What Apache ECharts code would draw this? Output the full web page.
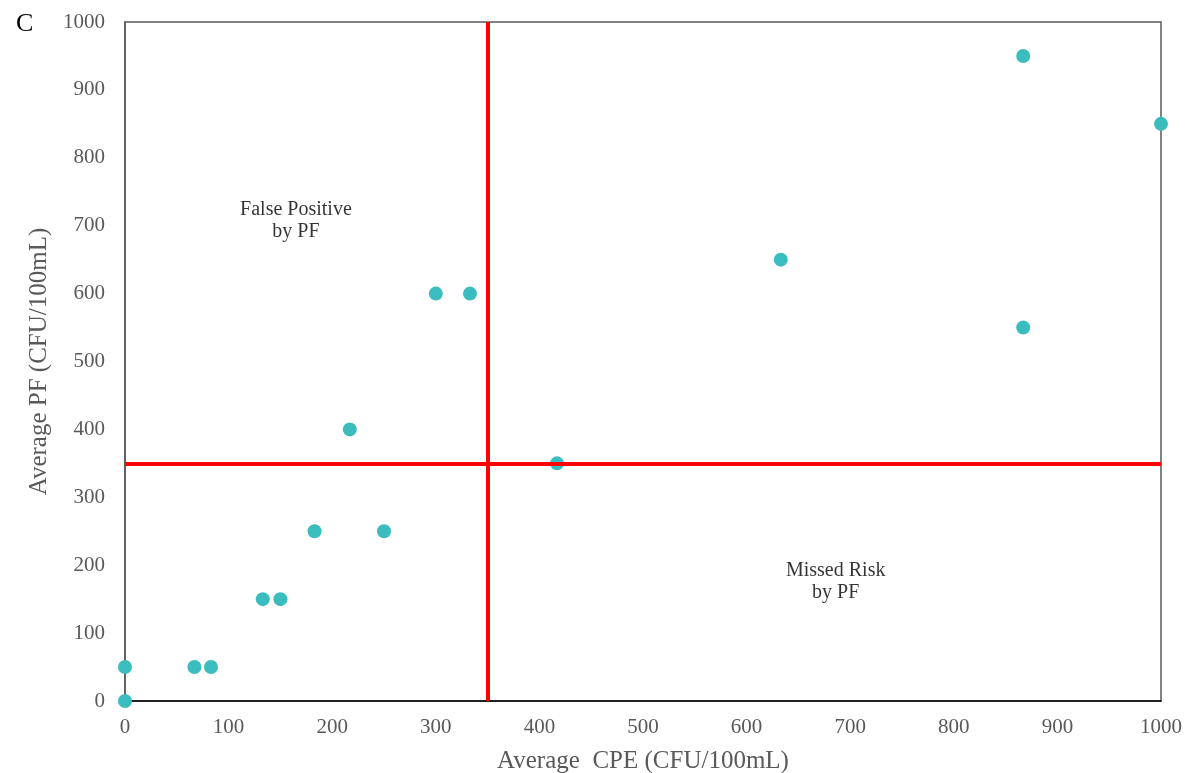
<!DOCTYPE html>
<html>
<head>
<meta charset="utf-8">
<script src="https://cdn.jsdelivr.net/npm/echarts@6/dist/echarts.min.js"></script>
<style>
html,body{margin:0;padding:0;background:#fff;}
#chart{width:1186px;height:773px;}
</style>
</head>
<body>
<div id="chart"></div>
<script>
// Data
var cpeValues = [0, 0, 67, 83, 133, 150, 183, 250, 217, 300, 333, 417, 633, 867, 867, 1000];
var pfValues  = [0, 50, 50, 50, 150, 150, 250, 250, 400, 600, 600, 350, 650, 550, 950, 850];
var thresholdCPE = 350;
var thresholdPF = 350;
var xTicks = [0, 100, 200, 300, 400, 500, 600, 700, 800, 900, 1000];
var yTicks = [0, 100, 200, 300, 400, 500, 600, 700, 800, 900, 1000];
var annotationTexts = ['False Positive\nby PF', 'Missed Risk\nby PF'];
var annotationX = [165, 686];
var annotationY = [707, 175];

var points = cpeValues.map(function (v, i) { return [v, pfValues[i]]; });
var annotations = annotationTexts.map(function (t, i) { return { value: [annotationX[i], annotationY[i]], name: t }; });

var serif = "'Liberation Serif', 'Times New Roman', serif";
var chart = echarts.init(document.getElementById('chart'), null, { renderer: 'canvas' });
chart.setOption({
  backgroundColor: '#fff',
  animation: false,
  title: {
    text: 'C', left: 11, top: 6,
    textStyle: { fontFamily: serif, fontSize: 26, fontWeight: 'normal', color: '#000' }
  },
  grid: {
    left: 125, top: 22, right: 25, bottom: 72,
    containLabel: false, outerBoundsMode: 'none',
    show: true, borderColor: '#595959', borderWidth: 1.5, backgroundColor: 'transparent'
  },
  xAxis: {
    type: 'value', min: xTicks[0], max: xTicks[xTicks.length - 1], interval: 100,
    name: 'Average  CPE (CFU/100mL)', nameLocation: 'middle', nameGap: 48,
    nameTextStyle: { fontFamily: serif, fontSize: 25, color: '#595959' },
    axisLine: { show: true, lineStyle: { color: '#000', width: 1.5 } },
    axisTick: { show: false },
    splitLine: { show: false },
    axisLabel: { fontFamily: serif, fontSize: 21, color: '#595959', margin: 16,
      formatter: function (v) { return String(v); } }
  },
  yAxis: {
    type: 'value', min: yTicks[0], max: yTicks[yTicks.length - 1], interval: 100,
    name: 'Average PF (CFU/100mL)', nameLocation: 'middle', nameGap: 72,
    nameTextStyle: { fontFamily: serif, fontSize: 25, color: '#595959' },
    axisLine: { show: true, lineStyle: { color: '#595959', width: 1.5 } },
    axisTick: { show: false },
    splitLine: { show: false },
    axisLabel: { fontFamily: serif, fontSize: 21, color: '#595959', margin: 20,
      formatter: function (v) { return String(v); } }
  },
  series: [
    {
      type: 'scatter', data: [], z: 1, silent: true,
      markLine: {
        silent: true, symbol: 'none', animation: false,
        label: { show: false },
        lineStyle: { color: '#ff0000', width: 4, type: 'solid' },
        emphasis: { disabled: true },
        data: [{ xAxis: thresholdCPE }, { yAxis: thresholdPF }]
      }
    },
    {
      type: 'scatter', data: points, z: 3, symbol: 'circle', symbolSize: 14,
      itemStyle: { color: '#3bbdc0', opacity: 1 }
    },
    {
      type: 'scatter', data: annotations, z: 4, symbolSize: 0, silent: true,
      label: {
        show: true, position: 'inside', formatter: function (p) { return p.name; },
        fontFamily: serif, fontSize: 20, color: '#000', textBorderWidth: 0,
        align: 'center', lineHeight: 22
      }
    }
  ]
});
</script>
</body>
</html>
